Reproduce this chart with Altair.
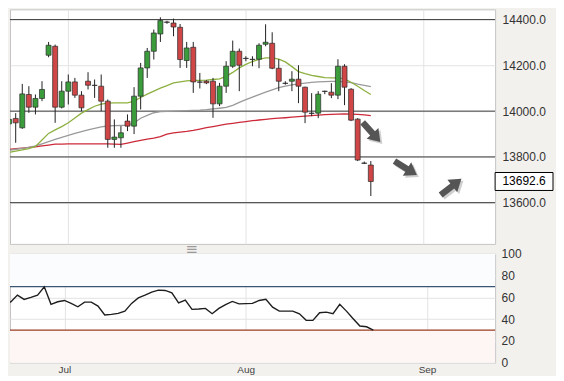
import altair as alt
import pandas as pd
import numpy as np

# ---------------- data ----------------
idx = list(range(56))
opens = [13944.6, 13968.1, 13927.1, 14072.8, 14017.4, 14055.4, 14244.3, 14283.5, 14017.4, 14087.2,
         14127.8, 14069.8, 14130.8, 14113.4, 14109.0, 14043.6, 13876.5, 13883.5, 13956.4, 13934.5,
         14065.4, 14188.9, 14261.7, 14337.2, 14388.2, 14385.1, 14366.4, 14221.1, 14279.1, 14127.8,
         14130.8, 14130.8, 14031.8, 14109.0, 14196.3, 14261.7, 14229.9, 14226.8, 14226.8, 14292.2,
         14296.6, 14187.5, 14122.1, 14130.8, 14139.6, 14104.7, 13991.3, 13991.3, 14087.2, 14082.9,
         14069.8, 14196.3, 14095.9, 13965.1, 13773.2, 13764.4]
highs = [13969.4, 13991.3, 14119.1, 14109.0, 14072.8, 14130.8, 14302.3, 14290.9, 14130.8, 14160.1,
         14145.2, 14087.2, 14170.1, 14138.3, 14160.1, 14051.0, 13963.8, 13934.5, 13985.6, 14104.7,
         14210.7, 14276.1, 14356.4, 14410.0, 14394.7, 14404.3, 14380.8, 14302.3, 14302.3, 14167.0,
         14135.2, 14145.2, 14123.4, 14218.1, 14308.4, 14273.5, 14239.9, 14239.9, 14296.6, 14379.5,
         14344.6, 14226.8, 14130.8, 14174.5, 14200.6, 14106.8, 14078.5, 14087.2, 14089.4, 14122.1,
         14226.8, 14205.0, 14100.3, 13969.4, 13779.7, 13781.9]
lows = [13938.9, 13861.7, 13922.8, 13992.6, 13985.6, 14043.6, 14235.5, 13948.9, 14011.8, 14029.2,
        14058.0, 14000.0, 14094.6, 14058.0, 14000.0, 13839.9, 13839.9, 13839.9, 13912.7, 13899.7,
        14007.4, 14145.2, 14225.5, 14302.3, 14381.7, 14327.1, 14188.9, 14188.9, 14079.8, 14099.0,
        14117.8, 13970.7, 14021.8, 14079.8, 14188.9, 14087.2, 14218.1, 14196.3, 14187.5, 14283.5,
        14183.2, 14087.2, 14115.6, 14087.2, 14034.9, 13947.6, 13978.2, 13969.4, 14074.1, 14056.7,
        14052.3, 14026.2, 13956.4, 13781.9, 13768.8, 13629.2]
closes = [13963.8, 13948.9, 14075.4, 14017.4, 14055.4, 14094.6, 14287.9, 14017.4, 14087.2, 14127.8,
          14069.8, 14014.4, 14113.4, 14112.0, 14043.6, 13876.5, 13886.6, 13905.3, 13934.5, 14065.4,
          14188.9, 14261.7, 14341.5, 14395.6, 14389.5, 14367.7, 14225.5, 14276.1, 14127.8, 14126.5,
          14123.4, 14031.8, 14109.0, 14196.3, 14261.7, 14200.6, 14231.0, 14225.5, 14287.9, 14301.0,
          14187.5, 14130.8, 14121.0, 14139.6, 14109.0, 13995.6, 13990.0, 14074.1, 14086.0, 14069.8,
          14196.3, 14104.7, 13960.7, 13786.2, 13772.0, 13692.6]
ma_green = [13819.9, 13825.1, 13830.8, 13836.4, 13845.6, 13873.9, 13902.7, 13918.0, 13932.4, 13949.0,
            13970.3, 13991.3, 14006.5, 14021.4, 14031.0, 14035.3, 14036.2, 14036.2, 14036.2, 14043.6,
            14059.8, 14074.2, 14087.7, 14100.3, 14111.7, 14123.9, 14127.8, 14132.2, 14134.4, 14134.8,
            14135.2, 14138.3, 14141.3, 14152.2, 14169.2, 14188.9, 14204.1, 14216.8, 14226.0, 14232.9,
            14232.9, 14227.7, 14215.1, 14194.5, 14172.7, 14164.0, 14156.2, 14151.4, 14146.6, 14145.3,
            14145.3, 14141.3, 14126.5, 14108.6, 14089.9, 14072.8]
ma_gray = [13829.0, 13833.4, 13837.7, 13842.1, 13848.2, 13857.4, 13867.0, 13876.1, 13885.3, 13894.0,
           13902.7, 13911.0, 13918.4, 13924.5, 13931.1, 13935.0, 13936.3, 13937.2, 13938.5, 13948.1,
           13969.0, 13981.7, 13993.0, 13998.3, 13999.1, 14000.0, 14000.9, 14002.2, 14003.1, 14003.9,
           14006.1, 14009.6, 14012.7, 14016.1, 14025.3, 14038.4, 14050.6, 14061.5, 14072.4, 14083.3,
           14093.4, 14102.9, 14109.5, 14114.7, 14119.5, 14122.6, 14125.6, 14127.8, 14129.1, 14130.0,
           14130.4, 14128.2, 14124.8, 14117.8, 14112.5, 14106.9]
ma_red = [13832.9, 13835.6, 13838.2, 13841.2, 13844.3, 13847.8, 13851.7, 13855.6, 13856.1, 13856.5,
          13856.9, 13856.9, 13856.9, 13856.9, 13856.9, 13856.9, 13856.1, 13854.7, 13860.4, 13866.5,
          13872.6, 13877.9, 13881.8, 13888.8, 13899.2, 13905.3, 13908.4, 13911.5, 13915.8, 13921.9,
          13927.6, 13932.8, 13937.6, 13942.9, 13946.8, 13950.7, 13954.2, 13958.1, 13961.2, 13964.2,
          13967.3, 13969.5, 13971.2, 13973.4, 13976.0, 13978.6, 13980.8, 13983.0, 13985.2, 13986.0,
          13986.9, 13988.2, 13986.9, 13986.0, 13983.4, 13980.8]
rsi = [57.0, 55.7, 62.1, 58.2, 60.0, 62.1, 69.7, 53.6, 56.0, 57.2,
       54.5, 51.4, 55.7, 55.7, 52.0, 43.8, 44.4, 45.3, 47.4, 54.5,
       59.6, 62.1, 64.9, 66.7, 66.4, 64.2, 55.0, 57.5, 49.0, 49.3,
       49.9, 45.0, 49.9, 53.4, 56.3, 54.1, 54.3, 54.5, 57.2, 58.2,
       51.1, 47.4, 47.4, 47.4, 45.0, 38.9, 38.9, 45.9, 46.5, 45.0,
       53.6, 47.4, 40.4, 33.7, 33.0, 30.0]

levels = [14400, 14000, 13800, 13600]
price_ticks = [13600, 13800, 14000, 14200, 14400]
rsi_ticks = [0, 20, 40, 60, 80, 100]
rsi_levels = [70, 30]
months = ["Jul", "Aug", "Sep"]
month_pos = [9, 36, 63]
last_price = [13692.6]
arrow_x = [55.1, 60.3, 67.2]
arrow_y = [13908, 13751, 13669]
arrow_angle = [48, 32, 322]

# ---------------- layout / style ----------------
W, H1, H2 = 486, 235, 109
FONT = "Liberation Sans"
GRID = "#e3e3e3"
xs = alt.Scale(domain=[0.892, 73.14], nice=False, zero=False)
ys = alt.Scale(domain=[13419.8, 14444.9], nice=False, zero=False)
rs = alt.Scale(domain=[0, 100], nice=False, zero=False)

x_main_axis = alt.Axis(values=month_pos, grid=True, labels=False, ticks=False,
                       domain=False, title=None, gridColor=GRID)
y_main_axis = alt.Axis(orient="right", values=price_ticks, format=".1f", grid=True,
                       ticks=False, domain=False, title=None, labelPadding=7, gridColor=GRID)
label_expr = " : ".join(f"datum.value == {p} ? '{m}'" for p, m in zip(month_pos[:-1], months[:-1])) \
    + f" : '{months[-1]}'"
x_low_axis = alt.Axis(values=month_pos, grid=True, labelExpr=label_expr, ticks=False,
                      domain=False, title=None, labelFontSize=10, labelColor="#444",
                      labelPadding=2, gridColor=GRID)
y_low_axis = alt.Axis(orient="right", values=rsi_ticks, grid=True, ticks=False, domain=False,
                      title=None, labelPadding=6, gridColor=GRID)

X = alt.X("i:Q", scale=xs, axis=x_main_axis)

df = pd.DataFrame({"i": idx, "open": opens, "high": highs, "low": lows, "close": closes})
df["b0"] = df[["open", "close"]].min(axis=1)
df["b1"] = df[["open", "close"]].max(axis=1)
diff = df["close"] - df["open"]
df["dir"] = np.where(diff.abs() < 3, "flat", np.where(diff > 0, "up", "down"))

ma = pd.concat([
    pd.DataFrame({"i": idx, "v": ma_red, "s": "red"}),
    pd.DataFrame({"i": idx, "v": ma_gray, "s": "gray"}),
    pd.DataFrame({"i": idx, "v": ma_green, "s": "green"}),
])

lv = alt.Chart(pd.DataFrame({"level": levels})).mark_rule(color="#3a3a3a", strokeWidth=1).encode(
    y=alt.Y("level:Q", scale=ys, axis=y_main_axis))

ma_lines = alt.Chart(ma).mark_line(strokeWidth=1.3, clip=True).encode(
    x=X, y=alt.Y("v:Q", scale=ys, axis=y_main_axis),
    color=alt.Color("s:N", scale=alt.Scale(domain=["red", "gray", "green"],
                                            range=["#cc2a3a", "#9a9a9a", "#8db040"]), legend=None),
    detail="s:N")

wicks = alt.Chart(df).mark_rule(color="#222222", strokeWidth=1, clip=True).encode(
    x=X, y=alt.Y("low:Q", scale=ys, axis=y_main_axis), y2="high:Q")

bodies = alt.Chart(df).mark_bar(width=5, stroke="#2a2a2a", strokeWidth=0.7, clip=True).encode(
    x=X, y=alt.Y("b0:Q", scale=ys, axis=y_main_axis), y2="b1:Q",
    fill=alt.Fill("dir:N", scale=alt.Scale(domain=["up", "down", "flat"],
                                            range=["#3a9c3a", "#d04545", "#222222"]), legend=None))

ARROW = "M-1,-0.24L0.12,-0.24L0.12,-0.6L1,0L0.12,0.6L0.12,0.24L-1,0.24Z"
adf = pd.DataFrame({"i": arrow_x, "p": arrow_y, "ang": arrow_angle})
arrow_shadow = alt.Chart(adf).mark_point(shape=ARROW, filled=True, size=700, opacity=1,
                                         fill="#cfcfcf", strokeWidth=0, xOffset=2, yOffset=2).encode(
    x=X, y=alt.Y("p:Q", scale=ys, axis=y_main_axis), angle=alt.Angle("ang:Q", scale=None))
arrows = alt.Chart(adf).mark_point(shape=ARROW, filled=True, size=700, opacity=1,
                                   fill="#555555", strokeWidth=0).encode(
    x=X, y=alt.Y("p:Q", scale=ys, axis=y_main_axis), angle=alt.Angle("ang:Q", scale=None))

BOX = "M-1,-0.31L1,-0.31L1,0.31L-1,0.31Z"
pdf = pd.DataFrame({"p": last_price})
pbox = alt.Chart(pdf).mark_point(shape=BOX, size=58 * 58, filled=True, fill="white",
                                 stroke="black", strokeWidth=1, opacity=1).encode(
    x=alt.value(W + 29), y=alt.Y("p:Q", scale=ys, axis=y_main_axis))
ptext = alt.Chart(pdf).mark_text(font=FONT, fontSize=12, color="black", align="center",
                                 baseline="middle").encode(
    x=alt.value(W + 29), y=alt.Y("p:Q", scale=ys, axis=y_main_axis),
    text=alt.Text("p:Q", format=".1f"))

main = alt.layer(lv, ma_lines, wicks, bodies, arrow_shadow, arrows, pbox, ptext).resolve_scale(
    color="independent", fill="independent").properties(width=W, height=H1)

# ---------------- lower RSI panel ----------------
XL = alt.X("i:Q", scale=xs, axis=x_low_axis)
bands = alt.Chart(pd.DataFrame({"lo": [70, 0], "hi": [100, 30], "c": ["#fafcfe", "#fdf6f4"]})).mark_rect().encode(
    y=alt.Y("lo:Q", scale=rs, axis=y_low_axis), y2="hi:Q", color=alt.Color("c:N", scale=None))
rl = alt.Chart(pd.DataFrame({"lv": rsi_levels, "c": ["#3b5572", "#9a3c22"]})).mark_rule(strokeWidth=1.2).encode(
    y=alt.Y("lv:Q", scale=rs, axis=y_low_axis), color=alt.Color("c:N", scale=None))
rsi_line = alt.Chart(pd.DataFrame({"i": idx, "r": rsi})).mark_line(color="#1e1e1e", strokeWidth=1.4, clip=True).encode(
    x=XL, y=alt.Y("r:Q", scale=rs, axis=y_low_axis))
handle = alt.Chart(pd.DataFrame({"h": ["\u2261"]})).mark_text(font="DejaVu Sans", fontSize=15, color="#9a9a9a",
                                                              baseline="middle").encode(
    x=alt.value(182), y=alt.value(-5), text="h:N")

lower = alt.layer(bands, rl, rsi_line, handle).properties(width=W, height=H2)

chart = alt.vconcat(main, lower, spacing=10, bounds="flush").properties(
    background="#f3f1ee", padding=0
).configure_axis(
    labelFont=FONT, labelFontSize=12, labelColor="#333333"
).configure_view(
    fill="white", stroke="#c4c4c4", strokeWidth=1
)

chart.save("out.html", embed_options={"renderer": "svg", "actions": False})
